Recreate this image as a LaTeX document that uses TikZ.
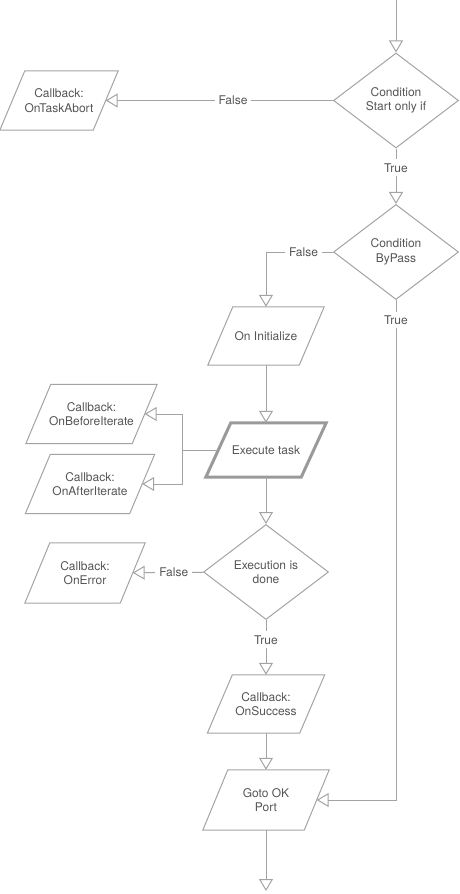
\documentclass[tikz,border=0pt]{standalone}
\usepackage{fontspec}
\setmainfont{TeX Gyre Heros}
\usetikzlibrary{shapes.geometric,arrows.meta}
\definecolor{linecol}{HTML}{A3A3A3}
\definecolor{boldcol}{HTML}{9A9A9A}
\definecolor{textcol}{HTML}{555555}
\begin{document}
\begin{tikzpicture}[x=1pt,y=-1pt,
  txt/.style={text=textcol, font=\fontsize{12}{14.5}\selectfont, align=center},
  line/.style={draw=linecol, line width=1pt},
  arr/.style={line, -{Triangle[open,length=12pt,width=14pt]}},
  lbl/.style={txt, fill=white, inner sep=4pt},
  pshape/.style={append after command={\pgfextra{\draw[#1]
      ([xshift=-12.5pt]\tikzlastnode.south west) -- ([xshift=12.5pt]\tikzlastnode.north west) --
      ([xshift=12.5pt]\tikzlastnode.north east) -- ([xshift=-12.5pt]\tikzlastnode.south east) -- cycle;}}},
  para/.style={txt, rectangle, minimum height=59pt, inner sep=2pt, pshape={draw=linecol, line width=1pt}},
  parabold/.style={txt, rectangle, minimum height=59pt, inner sep=2pt, pshape={draw=boldcol, line width=3pt}},
  dec/.style={txt, diamond, aspect=1.3, draw=linecol, line width=1pt,
    minimum width=125pt, minimum height=95pt, inner sep=0pt}
]
\useasboundingbox (0,0) rectangle (459,894);

\node[dec] (d1) at (396,100.5) {Condition\\Start only if};
\node[para, minimum width=93pt] (t1) at (59,100.5) {Callback:\\OnTaskAbort};
\node[dec] (d2) at (396,252) {Condition\\ByPass};
\node[para, minimum width=91pt, minimum height=58pt] (init) at (266,336) {On Initialize};
\node[parabold, minimum width=95pt, minimum height=54pt] (exec) at (266,450) {Execute task};
\node[para, minimum width=106pt] (ob) at (91.5,414) {Callback:\\OnBeforeIterate};
\node[para, minimum width=104pt] (oa) at (90,484) {Callback:\\OnAfterIterate};
\node[dec] (d3) at (266,572) {Execution is\\done};
\node[para, minimum width=95pt, minimum height=60pt] (oe) at (85,573) {Callback:\\OnError};
\node[para, minimum width=92pt, minimum height=58pt] (succ) at (266,704) {Callback:\\OnSuccess};
\node[para, minimum width=101pt, minimum height=60pt] (goto) at (266,800) {Goto OK\\Port};

\coordinate (in) at (396,0);
\coordinate (split) at (182,450);
\coordinate (out) at (266,891);

\draw[arr] (in) -- (d1);
\draw[arr] (d1) -- node[lbl,pos=0.44]{False} (t1);
\draw[arr] (d1) -- node[lbl,pos=0.35]{True} (d2);
\draw[arr] (d2) -| node[lbl,pos=0.22]{False} (init);
\draw[arr] (d2) |- node[lbl,pos=0.02]{True} (goto);
\draw[arr] (init) -- (exec);
\draw[line] (exec) -- (split);
\draw[arr] (split) |- (ob);
\draw[arr] (split) |- (oa);
\draw[arr] (exec) -- (d3);
\draw[arr] (d3) -- node[lbl,pos=0.42]{False} (oe);
\draw[arr] (d3) -- node[lbl,pos=0.36]{True} (succ);
\draw[arr] (succ) -- (goto);
\draw[arr] (goto) -- (out);
\end{tikzpicture}
\end{document}
